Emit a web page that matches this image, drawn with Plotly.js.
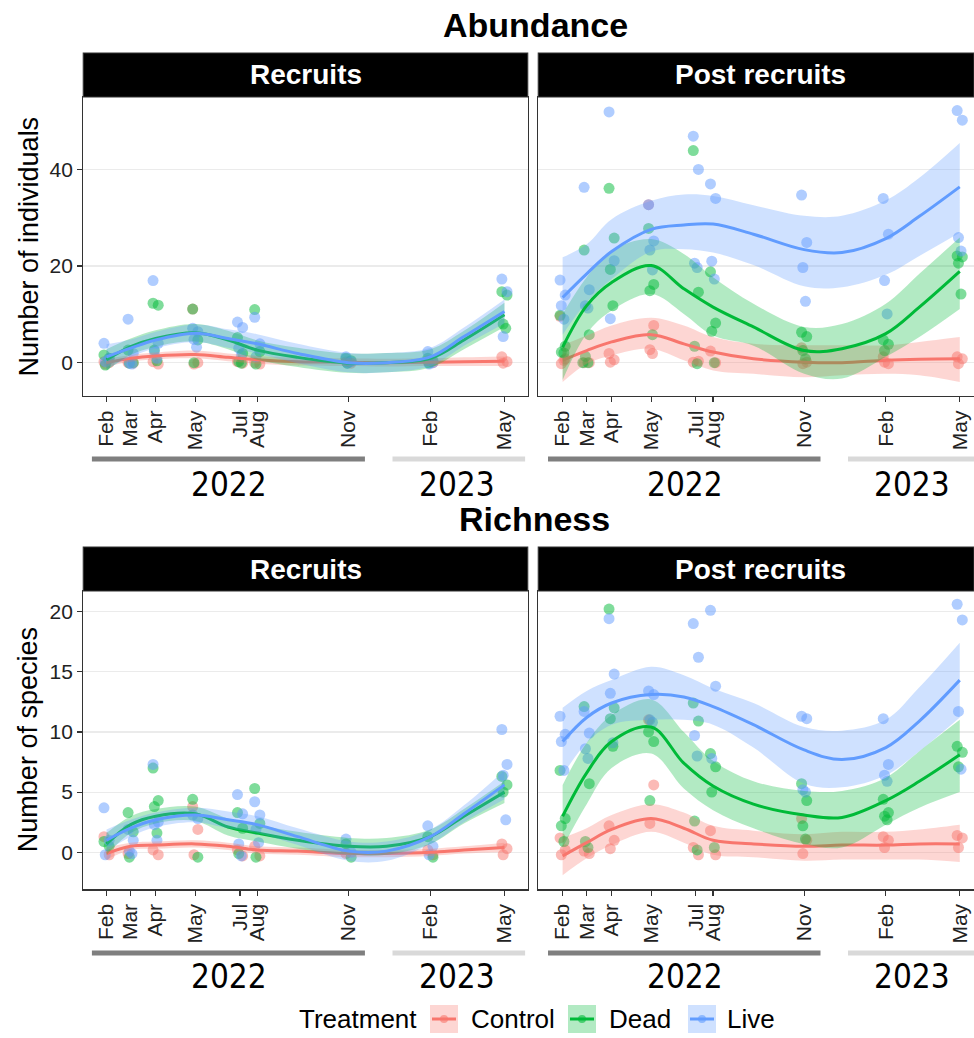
<!DOCTYPE html>
<html>
<head>
<meta charset="utf-8">
<script src="https://cdn.plot.ly/plotly-3.0.1.min.js"></script>
<style>
  html, body { margin: 0; padding: 0; background: #ffffff; }
  #chart { width: 974px; height: 1038px; }
</style>
</head>
<body>
<div id="chart"></div>
<script>
// Sampling occasions and their month labels
const sampleDates = ['2022-02-10','2022-03-10','2022-04-08','2022-05-24','2022-07-15','2022-08-04','2022-11-18','2023-02-21','2023-05-18'];
const monthLabels = ['Feb','Mar','Apr','May','Jul','Aug','Nov','Feb','May'];
const treatments = ['Control','Dead','Live'];
const yearLabels = ['2022','2023'];

// Dates at which the smoothed fits are evaluated
const fitDates = ['2022-02-10','2022-03-10','2022-04-08','2022-05-24','2022-07-01','2022-08-04','2022-09-20','2022-11-18','2023-01-01','2023-02-21','2023-04-01','2023-05-18'];

// ---- Abundance, recruits: observations per sampling occasion ----
const abundRecruitsControl = [[0.2,0,-0.3],[0,-0.1],[0.2,-0.3],[11.1,0,-0.3],[0.2,-0.1],[0,-0.3],[0.2,-0.1],[0.4,0],[1.2,0.2,-0.1]];
const abundRecruitsDead    = [[1.6,0.9,-0.5],[2.6,0,-0.1],[12.3,11.9,2.6,0.4],[11.1,4.7,0],[5.2,1.9,0.2,-0.1],[11.0,2.3,-0.3],[0.9,0.4,-0.1],[0.9,0.4,-0.1],[14.7,14.0,8.0,7.1]];
const abundRecruitsLive    = [[4.0,0.9,0.2],[9.0,1.9,-0.1,-0.3],[17.0,4.0,2.3,0.9],[7.1,6.4,4.8,3.2],[8.4,7.3,3.0,1.6],[9.4,3.9,1.2],[1.2,0.2,-0.1],[2.3,0,-0.3],[17.3,14.7,5.4]];
// smooth fit, upper and lower confidence limits
const abundRecruitsControlFit = [0,0.9,1.4,1.7,1.1,0.6,0.2,0.1,0,0.1,0.2,0.3];
const abundRecruitsControlUp  = [0.8,1.6,2.1,2.5,1.9,1.4,1.0,0.9,0.8,0.9,1.1,1.3];
const abundRecruitsControlLo  = [-0.8,0.2,0.7,0.9,0.3,-0.2,-0.6,-0.7,-0.8,-0.7,-0.7,-0.7];
const abundRecruitsDeadFit = [0.6,3.3,5.0,6.2,4.7,2.6,1.1,-0.1,0,0.9,4.7,9.9];
const abundRecruitsDeadUp  = [2.8,5.0,6.7,8.0,6.6,4.6,3.1,1.9,2.0,2.8,6.6,12.4];
const abundRecruitsDeadLo  = [-1.6,1.6,3.3,4.4,2.8,0.6,-0.9,-2.1,-2.0,-1.0,2.8,7.4];
const abundRecruitsLiveFit = [1.2,3.0,4.7,6.1,5.0,3.9,1.9,0,0,1.2,5.4,10.6];
const abundRecruitsLiveUp  = [3.8,4.8,6.4,7.9,6.9,5.9,3.9,2.0,2.0,3.1,7.3,13.1];
const abundRecruitsLiveLo  = [-1.4,1.2,3.0,4.3,3.1,1.9,-0.1,-2.0,-2.0,-0.7,3.5,8.1];

// ---- Abundance, post recruits ----
const abundPostControl = [[9.6,0.8,-0.2,0.5],[0,0],[1.9,0.6,0.1],[32.7,7.7,2.7,1.9],[0.1,0.3],[2.4,0],[3.1,0.1,-0.2],[1.2,-0.2,0.1],[1.2,0.8,-0.2]];
const abundPostDead    = [[9.8,3.4,2.2,2.0],[23.3,5.8,1.3,0,0],[36.1,25.8,19.3,11.8],[27.8,16.2,14.9,5.8],[43.9,14.6,3.4,-0.2],[18.8,8.2,6.5,0],[6.3,5.4,2.5,0.8],[4.7,3.8,2.5],[22.1,21.9,20.6,14.2]];
const abundPostLive    = [[17.1,14.0,11.8,9.0],[36.3,15.1,11.8,11.3],[51.9,21.1,9.1],[32.7,25.2,23.3,19.2],[46.9,40.0,20.6,19.7],[37.0,34.0,21.0,17.3],[34.7,24.9,19.7,12.7],[34.0,26.6,17.0,10.1],[52.2,50.2,25.9,23.1]];
const abundPostControlFit = [0.5,2.5,4.3,5.8,3.9,2.2,0.8,0.1,0,0.5,0.7,0.8];
const abundPostControlUp  = [3.6,5.6,7.7,9.3,7.7,5.3,3.9,3.6,3.6,3.6,4.3,5.3];
const abundPostControlLo  = [-4.0,-0.2,1.5,2.9,0.5,-1.6,-2.3,-3.0,-2.6,-2.3,-2.6,-4.0];
const abundPostDeadFit = [3.2,11.8,16.6,20.1,15.3,11.5,7.4,2.5,2.9,6.0,11.5,18.9];
const abundPostDeadUp  = [10.1,17.7,23.2,25.6,22.5,17.7,12.2,7.4,8.0,12.2,18.4,25.9];
const abundPostDeadLo  = [-3.6,6.0,10.8,14.2,10.1,5.6,3.5,-2.3,-3.3,1.2,5.3,11.1];
const abundPostLiveFit = [13.5,18.4,23.0,27.6,28.5,28.7,26.6,23.4,22.8,25.7,30.3,36.4];
const abundPostLiveUp  = [21.8,24.5,29.7,33.5,34.8,34.5,32.6,30.4,30.4,33.6,38.3,45.5];
const abundPostLiveLo  = [5.8,12.5,17.3,23.0,23.5,22.8,20.2,15.8,15.6,18.2,22.1,26.9];

// ---- Richness, recruits ----
const richRecruitsControl = [[1.3,-0.2],[-0.1],[0.2,-0.2],[3.8,1.9,-0.2],[0.2,-0.3],[0.5,-0.3],[-0.1],[0.2,-0.2],[0.7,0.3,-0.2]];
const richRecruitsDead    = [[0.9,0.5],[3.3,1.7,-0.4],[7.0,4.3,3.8,1.6],[4.4,-0.4],[3.3,2.0,-0.1],[5.3,2.4,-0.4],[0.7,-0.4],[1.3,-0.4],[6.3,5.6,5.0]];
const richRecruitsLive    = [[3.7,1.0,-0.2],[1.9,1.0,0.1,-0.1],[7.3,2.5,2.3,1.0],[3.1,2.8],[4.8,3.2,0.7,-0.3],[4.2,3.1,1.9,0.8],[1.1,0],[2.2,0.5,-0.2],[10.2,7.3,6.4,2.7]];
const richRecruitsControlFit = [-0.1,0.5,0.6,0.7,0.5,0.2,0.1,-0.1,-0.1,0,0.2,0.4];
const richRecruitsControlUp  = [0.4,0.8,0.9,1.0,0.8,0.5,0.4,0.2,0.2,0.3,0.5,0.8];
const richRecruitsControlLo  = [-0.6,0.2,0.3,0.4,0.2,-0.1,-0.2,-0.4,-0.4,-0.3,-0.1,0.0];
const richRecruitsDeadFit = [0.7,2.3,3.0,3.2,2.1,1.6,1.0,0.5,0.5,1.3,3.0,5.0];
const richRecruitsDeadUp  = [1.6,3.0,3.6,3.8,2.8,2.3,1.7,1.2,1.2,1.9,3.6,5.9];
const richRecruitsDeadLo  = [-0.2,1.6,2.4,2.6,1.4,0.9,0.3,-0.2,-0.2,0.7,2.4,4.1];
const richRecruitsLiveFit = [1.0,2.0,2.7,3.1,2.7,2.3,1.3,0.1,0.1,1.3,3.2,5.6];
const richRecruitsLiveUp  = [1.9,2.7,3.3,3.7,3.4,3.0,2.0,0.9,0.9,1.9,3.9,6.8];
const richRecruitsLiveLo  = [0.1,1.3,2.1,2.5,2.0,1.6,0.6,-0.7,-0.7,0.7,2.5,4.4];

// ---- Richness, post recruits ----
const richPostControl = [[1.2,0.2,-0.2],[0.1,-0.1],[2.2,1.0,0.3],[11.0,5.6,2.4],[0.4,-0.2],[1.8,-0.2],[2.8,1.0,-0.1],[1.3,1.0,0.4],[1.4,1.2,0.4]];
const richPostDead    = [[6.8,2.8,2.2,0.9],[12.1,5.7,0.9,0.4],[20.2,12.0,11.1,8.8],[10.0,9.2,4.3],[12.4,10.9,2.6,0.2],[8.2,7.1,5.0,0.4],[5.7,4.3,2.2,1.1],[4.4,3.3,3.0,2.7],[8.8,8.3,7.1]];
const richPostLive    = [[11.3,9.8,9.2,6.8],[11.7,9.9,8.6,7.8],[19.4,14.8,13.2,9.1],[13.4,13.1,11.0,10.8],[19.0,16.2,9.7,8.0],[20.1,13.8,7.8],[11.3,11.1,5.2,5.0],[11.1,7.3,6.4,5.9],[20.6,19.3,11.7,6.9]];
const richPostControlFit = [-0.3,0.8,1.9,2.8,2.0,1.0,0.7,0.5,0.6,0.6,0.7,0.7];
const richPostControlUp  = [1.2,2.0,3.1,4.0,3.3,2.2,1.8,1.5,1.7,1.7,1.9,2.3];
const richPostControlLo  = [-1.9,-0.5,0.6,1.7,0.8,-0.2,-0.4,-0.7,-0.6,-0.6,-0.6,-0.8];
const richPostDeadFit = [3.0,6.6,9.2,10.4,7.4,5.5,4.0,3.1,2.9,4.3,5.9,8.1];
const richPostDeadUp  = [5.6,9.1,11.4,12.7,10.0,7.6,5.9,5.1,5.1,6.2,8.4,11.0];
const richPostDeadLo  = [0.4,4.0,7.0,8.2,5.3,3.5,2.0,0.7,0.4,2.3,3.7,5.0];
const richPostLiveFit = [9.2,11.2,12.4,13.1,12.9,12.1,10.6,8.5,7.7,8.7,10.9,14.3];
const richPostLiveUp  = [12.0,13.4,14.3,15.4,14.7,13.6,12.4,10.4,10.1,11.0,13.7,17.4];
const richPostLiveLo  = [6.4,9.1,10.6,11.0,11.0,10.6,8.7,5.7,5.4,6.4,8.4,11.2];

// ---- styling ----
const W = 974, H = 1038;
const FONT = 'Liberation Sans, Arial, Helvetica, sans-serif';
const NARROW = 'Liberation Sans Narrow, Arial Narrow, DejaVu Sans Condensed, sans-serif';
const colors = { Control: [248,118,109], Dead: [0,186,56], Live: [97,156,255] };
const rgba = (c, a) => `rgba(${c[0]},${c[1]},${c[2]},${a})`;
const px = x => x / W;
const py = y => 1 - y / H;

// small horizontal spread of overlapping points (days)
const jitterDays = [-3, 3, -1.5, 1.5, -4.5, 4.5];
function shiftDate(d, days) {
  const t = new Date(d + 'T00:00:00Z').getTime() + days * 86400000;
  return new Date(t).toISOString().slice(0, 19).replace('T', ' ');
}

const panels = [
  { xa: 'x',  ya: 'y',  obs: { Control: abundRecruitsControl, Dead: abundRecruitsDead, Live: abundRecruitsLive },
    fit: { Control: [abundRecruitsControlFit, abundRecruitsControlUp, abundRecruitsControlLo],
           Dead: [abundRecruitsDeadFit, abundRecruitsDeadUp, abundRecruitsDeadLo],
           Live: [abundRecruitsLiveFit, abundRecruitsLiveUp, abundRecruitsLiveLo] } },
  { xa: 'x2', ya: 'y2', obs: { Control: abundPostControl, Dead: abundPostDead, Live: abundPostLive },
    fit: { Control: [abundPostControlFit, abundPostControlUp, abundPostControlLo],
           Dead: [abundPostDeadFit, abundPostDeadUp, abundPostDeadLo],
           Live: [abundPostLiveFit, abundPostLiveUp, abundPostLiveLo] } },
  { xa: 'x3', ya: 'y3', obs: { Control: richRecruitsControl, Dead: richRecruitsDead, Live: richRecruitsLive },
    fit: { Control: [richRecruitsControlFit, richRecruitsControlUp, richRecruitsControlLo],
           Dead: [richRecruitsDeadFit, richRecruitsDeadUp, richRecruitsDeadLo],
           Live: [richRecruitsLiveFit, richRecruitsLiveUp, richRecruitsLiveLo] } },
  { xa: 'x4', ya: 'y4', obs: { Control: richPostControl, Dead: richPostDead, Live: richPostLive },
    fit: { Control: [richPostControlFit, richPostControlUp, richPostControlLo],
           Dead: [richPostDeadFit, richPostDeadUp, richPostDeadLo],
           Live: [richPostLiveFit, richPostLiveUp, richPostLiveLo] } }
];

const traces = [];
panels.forEach(p => {
  // raw observations
  treatments.forEach(t => {
    const xs = [], ys = [];
    p.obs[t].forEach((vals, i) => {
      vals.forEach((v, k) => { xs.push(shiftDate(sampleDates[i], jitterDays[k % jitterDays.length])); ys.push(v); });
    });
    traces.push({ type: 'scatter', mode: 'markers', x: xs, y: ys, xaxis: p.xa, yaxis: p.ya,
      marker: { size: 11, color: rgba(colors[t], 0.5), line: { width: 0 } },
      showlegend: false, hoverinfo: 'skip', cliponaxis: true });
  });
  // smooth fits with confidence ribbons
  treatments.forEach(t => {
    const [fit, up, lo] = p.fit[t];
    traces.push({ type: 'scatter', mode: 'lines', x: fitDates, y: lo, xaxis: p.xa, yaxis: p.ya,
      line: { width: 0, shape: 'spline', smoothing: 1 }, showlegend: false, hoverinfo: 'skip' });
    traces.push({ type: 'scatter', mode: 'lines', x: fitDates, y: up, xaxis: p.xa, yaxis: p.ya,
      fill: 'tonexty', fillcolor: rgba(colors[t], 0.3),
      line: { width: 0, shape: 'spline', smoothing: 1 }, showlegend: false, hoverinfo: 'skip' });
    traces.push({ type: 'scatter', mode: 'lines', x: fitDates, y: fit, xaxis: p.xa, yaxis: p.ya,
      line: { width: 3, color: rgba(colors[t], 1), shape: 'spline', smoothing: 1 },
      showlegend: false, hoverinfo: 'skip' });
  });
});

// panel geometry (pixels)
const leftX = [83.3, 527.7], rightX = [538.3, 974];
const topY = [97, 396], botY = [591, 889.3];
const leftRange = ['2022-01-14', '2023-06-14'];
const rightRange = ['2022-01-12 17:00', '2023-06-03 14:00'];

function xAxis(dom, range, anchor) {
  return { domain: [px(dom[0]), px(dom[1])], range: range, type: 'date', anchor: anchor,
    tickmode: 'array', tickvals: sampleDates, ticktext: monthLabels, tickangle: -90,
    ticks: 'outside', ticklen: 5, tickwidth: 1.2, tickcolor: '#333',
    tickfont: { family: FONT, size: 21, color: '#222' },
    showgrid: false, zeroline: false, showline: true, mirror: true, linecolor: '#333', linewidth: 1.2 };
}
function yAxis(dom, range, ticks, anchor, labels) {
  return { domain: [py(dom[1]), py(dom[0])], range: range, anchor: anchor,
    tickmode: 'array', tickvals: ticks, showticklabels: labels,
    ticks: labels ? 'outside' : '', ticklen: 5, tickwidth: 1.2, tickcolor: '#333',
    tickfont: { family: FONT, size: 21, color: '#222' },
    showgrid: true, gridcolor: '#ebebeb', gridwidth: 1.2,
    zeroline: false, showline: true, mirror: true, linecolor: '#333', linewidth: 1.2 };
}

const abundTicks = [0, 20, 40], richTicks = [0, 5, 10, 15, 20];
const abundRange = [-6.9, 55.0], richRange = [-3.07, 21.7];

const shapes = [], annotations = [];

// facet strips
[[leftX, topY, 'Recruits'], [rightX, topY, 'Post recruits'], [leftX, botY, 'Recruits'], [rightX, botY, 'Post recruits']]
  .forEach(([xs, ys, label]) => {
    const right = xs === rightX ? 982.7 : xs[1];
    shapes.push({ type: 'rect', xref: 'paper', yref: 'paper', x0: px(xs[0]), x1: px(Math.min(right, W)),
      y0: py(ys[0]), y1: py(ys[0] - 44), fillcolor: '#000', line: { width: 1.2, color: '#333' }, layer: 'above' });
    annotations.push({ xref: 'paper', yref: 'paper', x: px((xs[0] + right) / 2), y: py(ys[0] - 22),
      text: '<b>' + label + '</b>', showarrow: false, xanchor: 'center', yanchor: 'middle',
      font: { family: FONT, size: 28, color: '#fff' } });
  });

// year brackets beneath the month axis
const yearSpans = [['2022-01-24', '2022-12-07', '#7f7f7f'], ['2023-01-08', '2023-06-11', '#d9d9d9']];
const yearCentres = ['2022-07-02', '2023-03-24'];
[['x', 459, 484], ['x2', 459, 484], ['x3', 953, 976], ['x4', 953, 976]].forEach(([xa, barY, textY]) => {
  yearSpans.forEach((s, i) => {
    shapes.push({ type: 'line', xref: xa, yref: 'paper', x0: s[0], x1: s[1], y0: py(barY), y1: py(barY),
      line: { color: s[2], width: 5 } });
    annotations.push({ xref: xa, yref: 'paper', x: yearCentres[i], y: py(textY), text: yearLabels[i],
      showarrow: false, xanchor: 'center', yanchor: 'middle',
      font: { family: NARROW, size: 33, color: '#000' } });
  });
});

// section titles
annotations.push({ xref: 'paper', yref: 'paper', x: px(535), y: py(25), text: '<b>Abundance</b>',
  showarrow: false, xanchor: 'center', yanchor: 'middle', font: { family: FONT, size: 34, color: '#000' } });
annotations.push({ xref: 'paper', yref: 'paper', x: px(534), y: py(519), text: '<b>Richness</b>',
  showarrow: false, xanchor: 'center', yanchor: 'middle', font: { family: FONT, size: 34, color: '#000' } });

// y-axis titles
annotations.push({ xref: 'paper', yref: 'paper', x: px(28), y: py((topY[0] + topY[1]) / 2), text: 'Number of individuals',
  textangle: -90, showarrow: false, xanchor: 'center', yanchor: 'middle', font: { family: FONT, size: 27, color: '#000' } });
annotations.push({ xref: 'paper', yref: 'paper', x: px(28), y: py((botY[0] + botY[1]) / 2), text: 'Number of species',
  textangle: -90, showarrow: false, xanchor: 'center', yanchor: 'middle', font: { family: FONT, size: 27, color: '#000' } });

// legend
const legY = 1019;
annotations.push({ xref: 'paper', yref: 'paper', x: px(297), y: py(legY), text: 'Treatment', showarrow: false,
  xanchor: 'left', yanchor: 'middle', font: { family: FONT, size: 26, color: '#000' } });
const keyBoxes = [430, 568, 688];
const keyText = [469, 607, 725];
treatments.forEach((t, i) => {
  const x0 = keyBoxes[i], x1 = x0 + 28;
  shapes.push({ type: 'rect', xref: 'paper', yref: 'paper', x0: px(x0), x1: px(x1), y0: py(legY + 14), y1: py(legY - 14),
    fillcolor: rgba(colors[t], 0.3), line: { width: 0 } });
  shapes.push({ type: 'line', xref: 'paper', yref: 'paper', x0: px(x0 + 2), x1: px(x1 - 2), y0: py(legY), y1: py(legY),
    line: { color: rgba(colors[t], 1), width: 3 } });
  shapes.push({ type: 'circle', xref: 'paper', yref: 'paper', x0: px(x0 + 10), x1: px(x0 + 18), y0: py(legY + 4), y1: py(legY - 4),
    fillcolor: rgba(colors[t], 0.6), line: { width: 0 } });
  annotations.push({ xref: 'paper', yref: 'paper', x: px(keyText[i]), y: py(legY), text: t, showarrow: false,
    xanchor: 'left', yanchor: 'middle', font: { family: FONT, size: 26, color: '#000' } });
});

const layout = {
  width: W, height: H,
  margin: { l: 0, r: 0, t: 0, b: 0, pad: 0 },
  paper_bgcolor: '#fff', plot_bgcolor: '#fff',
  showlegend: false,
  font: { family: FONT },
  xaxis:  xAxis(leftX, leftRange, 'y'),
  xaxis2: xAxis(rightX, rightRange, 'y2'),
  xaxis3: xAxis(leftX, leftRange, 'y3'),
  xaxis4: xAxis(rightX, rightRange, 'y4'),
  yaxis:  yAxis(topY, abundRange, abundTicks, 'x', true),
  yaxis2: yAxis(topY, abundRange, abundTicks, 'x2', false),
  yaxis3: yAxis(botY, richRange, richTicks, 'x3', true),
  yaxis4: yAxis(botY, richRange, richTicks, 'x4', false),
  shapes: shapes,
  annotations: annotations
};

Plotly.newPlot('chart', traces, layout, { staticPlot: true, displayModeBar: false });
</script>
</body>
</html>
